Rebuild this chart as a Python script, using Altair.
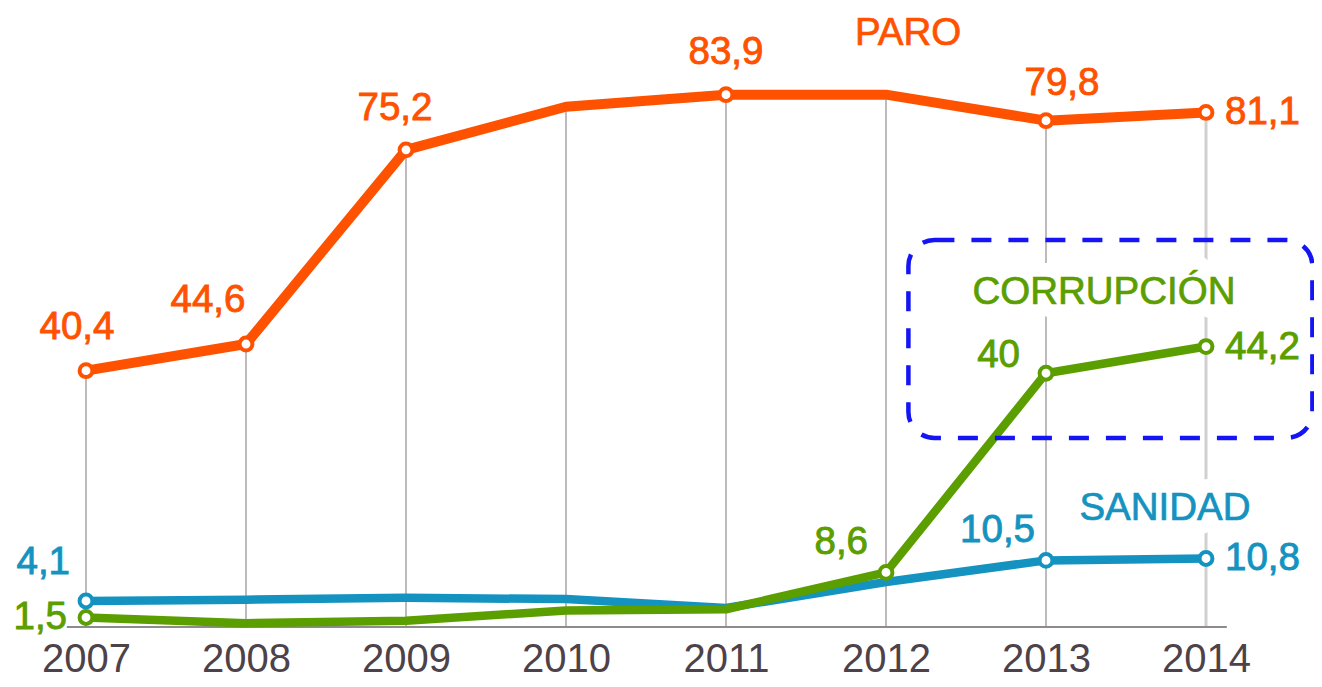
import altair as alt
import pandas as pd

# ---------------- data ----------------
YEARS = [2007, 2008, 2009, 2010, 2011, 2012, 2013, 2014]
PARO = [40.4, 44.6, 75.2, 82.0, 83.9, 83.9, 79.8, 81.1]
CORRUPCION = [1.5, 0.6, 1.0, 2.6, 2.8, 8.6, 40.0, 44.2]
SANIDAD = [4.1, 4.3, 4.6, 4.4, 3.0, 7.1, 10.5, 10.8]
SERIES = ["PARO", "CORRUPCIÓN", "SANIDAD"]
MARKED = {
    "PARO": [2007, 2008, 2009, 2011, 2013, 2014],
    "CORRUPCIÓN": [2007, 2012, 2013, 2014],
    "SANIDAD": [2007, 2013, 2014],
}
# series name labels are anchored on one point of their series
NAME_ANCHOR = {"PARO": 2012, "CORRUPCIÓN": 2014, "SANIDAD": 2014}
# highlighted box (data units)
BOX_YEARS = [2012.14, 2014.665]
BOX_VALUES = [29.8, 61.0]

# ---------------- styles ----------------
COLORS = {"PARO": "#ff5200", "CORRUPCIÓN": "#5b9e00", "SANIDAD": "#1493c0"}
LINE_W = {"PARO": 10, "CORRUPCIÓN": 8.5, "SANIDAD": 8.5}
FONT = "Liberation Sans"
FS = 38.5
AXIS_FS = 40
LABEL_STYLE = {
    ("PARO", 2007): ("center", -9, -44),
    ("PARO", 2008): ("center", -38, -44),
    ("PARO", 2009): ("center", -11, -42),
    ("PARO", 2011): ("center", 0, -43),
    ("PARO", 2013): ("center", 16, -38),
    ("PARO", 2014): ("left", 19, 0),
    ("CORRUPCIÓN", 2007): ("right", -19, 0),
    ("CORRUPCIÓN", 2012): ("right", -18, -30),
    ("CORRUPCIÓN", 2013): ("right", -26, -18),
    ("CORRUPCIÓN", 2014): ("left", 19, 0),
    ("SANIDAD", 2007): ("right", -16, -39),
    ("SANIDAD", 2013): ("right", -11, -30),
    ("SANIDAD", 2014): ("left", 19, 0),
}
NAME_STYLE = {"PARO": (22, -62), "CORRUPCIÓN": (-102, -55), "SANIDAD": (-41, -50)}

W, H = 1306, 619
X_DOMAIN = [2006.5125, 2006.5125 + W / 160]
Y_DOMAIN = [0, 97.56]

values = {"PARO": PARO, "CORRUPCIÓN": CORRUPCION, "SANIDAD": SANIDAD}


def fmt(v):
    s = f"{v:.1f}".replace(".", ",")
    return s[:-2] if s.endswith(",0") else s


rows = []
for s in SERIES:
    for y, v in zip(YEARS, values[s]):
        rows.append({"series": s, "year": y, "value": v, "label": fmt(v),
                     "marked": y in MARKED[s]})
df = pd.DataFrame(rows)
paro_df = pd.DataFrame({"year": YEARS, "value": PARO})
axis_df = pd.DataFrame({"x0": [min(YEARS) - 0.12], "x1": [max(YEARS) + 0.13], "v": [0]})
box_df = pd.DataFrame({"x0": [BOX_YEARS[0]], "x1": [BOX_YEARS[1]],
                       "v0": [BOX_VALUES[0]], "v1": [BOX_VALUES[1]]})

xscale = alt.Scale(domain=X_DOMAIN, nice=False, zero=False)
yscale = alt.Scale(domain=Y_DOMAIN, nice=False, zero=False)
xaxis = alt.Axis(values=YEARS, format="d", title=None, grid=False, domain=False,
                 ticks=False, tickSize=0, labelPadding=12, labelFont=FONT,
                 labelFontSize=AXIS_FS, labelColor="#4d4249", labelFlush=False)


def X(field="year"):
    return alt.X(f"{field}:Q", scale=xscale, axis=xaxis, title=None)


def Y(field="value"):
    return alt.Y(f"{field}:Q", scale=yscale, axis=None, title=None)


def sel(s, yr=None):
    e = f"datum.series == '{s}'"
    if yr is not None:
        e += f" && datum.year == {yr}"
    return e


layers = []

# vertical guide lines from PARO down to baseline
layers.append(
    alt.Chart(paro_df).mark_rule().encode(
        x=X(), y=Y(), y2=alt.Y2(datum=0),
        color=alt.condition(alt.datum.year == 2014, alt.value("#d2cfd2"), alt.value("#a29ca1")),
        strokeWidth=alt.condition(alt.datum.year == 2014, alt.value(3), alt.value(1.4)),
    )
)
# baseline
layers.append(
    alt.Chart(axis_df).mark_rule(color="#8f8a8e", strokeWidth=2).encode(
        x=X("x0"), x2="x1", y=Y("v")
    )
)

# white halos behind series names
for s in SERIES:
    dx, dy = NAME_STYLE[s]
    layers.append(
        alt.Chart(df).transform_filter(sel(s, NAME_ANCHOR[s])).mark_text(
            font=FONT, fontSize=FS, dx=dx, dy=dy, align="center",
            baseline="middle", color="white", stroke="white",
            strokeWidth=28, strokeJoin="round").encode(
            x=X(), y=Y(), text="series:N")
    )

# lines
for s in ["SANIDAD", "CORRUPCIÓN", "PARO"]:
    layers.append(
        alt.Chart(df).transform_filter(sel(s)).mark_line(
            color=COLORS[s], strokeWidth=LINE_W[s], strokeJoin="round",
            strokeCap="round").encode(x=X(), y=Y(), order="year:Q")
    )

# markers
for s in ["SANIDAD", "CORRUPCIÓN", "PARO"]:
    layers.append(
        alt.Chart(df).transform_filter(sel(s) + " && datum.marked").mark_circle(
            size=165, fill="white", stroke=COLORS[s], strokeWidth=4,
            opacity=1).encode(x=X(), y=Y())
    )

# value labels
for (s, yr), (align, dx, dy) in LABEL_STYLE.items():
    layers.append(
        alt.Chart(df).transform_filter(sel(s, yr)).mark_text(
            font=FONT, fontSize=FS, align=align, baseline="middle",
            dx=dx, dy=dy, color=COLORS[s], stroke=COLORS[s],
            strokeWidth=0.9).encode(
            x=X(), y=Y(), text="label:N")
    )

# series names
for s in SERIES:
    dx, dy = NAME_STYLE[s]
    layers.append(
        alt.Chart(df).transform_filter(sel(s, NAME_ANCHOR[s])).mark_text(
            font=FONT, fontSize=FS, dx=dx, dy=dy, align="center",
            baseline="middle", color=COLORS[s], stroke=COLORS[s],
            strokeWidth=0.7).encode(
            x=X(), y=Y(), text="series:N")
    )

# dashed highlight box
layers.append(
    alt.Chart(box_df).mark_rect(fillOpacity=0, fill="white", stroke="#1414f5",
                                strokeWidth=4.5, strokeDash=[20, 17],
                                cornerRadius=26).encode(
        x=X("x0"), x2="x1", y=Y("v0"), y2="v1")
)

chart = alt.layer(*layers).properties(
    width=W, height=H,
    background="white",
    autosize=alt.AutoSizeParams(type="none"),
    padding={"left": 0, "top": 0, "right": 0, "bottom": 52},
).configure_view(stroke=None)

chart.save("out.html", embed_options={"renderer": "svg", "actions": False})
